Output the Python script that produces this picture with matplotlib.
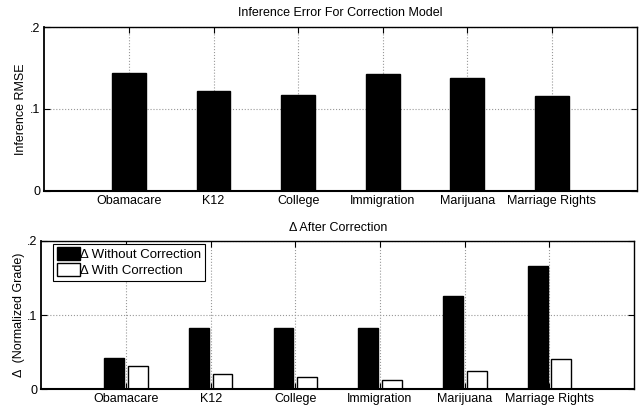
import matplotlib
matplotlib.use("Agg")
import matplotlib.pyplot as plt
import numpy as np

categories = ["Obamacare", "K12", "College", "Immigration", "Marijuana", "Marriage Rights"]
rmse = [0.144, 0.122, 0.1175, 0.1425, 0.138, 0.1155]
delta_without = [0.0415, 0.083, 0.083, 0.083, 0.125, 0.1665]
delta_with = [0.0308, 0.020, 0.016, 0.013, 0.0246, 0.041]
yticks = [0, 0.1, 0.2]
yticklabels = ["0", ".1", ".2"]

plt.rcParams['font.family'] = ['Liberation Sans', 'DejaVu Sans']
plt.rcParams['font.size'] = 9

fig = plt.figure(figsize=(6.39, 4.08), dpi=100)
ax1 = fig.add_axes([44.3 / 639, (408 - 190.5) / 408, 592.2 / 639, 163.2 / 408])
ax2 = fig.add_axes([41.2 / 639, (408 - 389.3) / 408, 593.0 / 639, 148.6 / 408])

x = np.arange(1, len(categories) + 1)

def style(ax):
    ax.set_xlim(0, 7)
    ax.set_ylim(0, 0.2)
    ax.set_xticks(x)
    ax.set_xticklabels(categories)
    ax.set_yticks(yticks)
    ax.set_yticklabels(yticklabels)
    ax.grid(True, linestyle=':', color='#999999', linewidth=0.8)
    ax.set_axisbelow(True)
    ax.tick_params(direction='in', top=True, right=True, length=4, width=0.8, labelsize=9, pad=3)
    for s in ax.spines.values():
        s.set_linewidth(1.0)
    ax.spines['bottom'].set_linewidth(1.5)
    ax.spines['left'].set_linewidth(1.3)

ax1.bar(x, rmse, width=0.4, color='black', edgecolor='black')
style(ax1)
ax1.set_title("Inference Error For Correction Model", fontsize=9, pad=8)
ax1.set_ylabel("Inference RMSE", fontsize=9, labelpad=2)

ax2.bar(x - 0.14, delta_without, width=0.235, color='black', edgecolor='black', label="Δ Without Correction")
ax2.bar(x + 0.14, delta_with, width=0.235, color='white', edgecolor='black', linewidth=1.0, label="Δ With Correction")
style(ax2)
ax2.set_title("Δ After Correction", fontsize=9, pad=7)
ax2.set_ylabel("Δ  (Normalized Grade)", fontsize=9, labelpad=1)
leg = ax2.legend(loc='upper left', fontsize=9.5, fancybox=False, framealpha=1, edgecolor='black',
                 handlelength=1.75, handleheight=1.15, handletextpad=0.05, borderpad=0.25,
                 labelspacing=0.15, borderaxespad=0.25, bbox_to_anchor=(0.015, 1.0))
leg.get_frame().set_linewidth(0.8)

fig.savefig("out.png", dpi=100)
